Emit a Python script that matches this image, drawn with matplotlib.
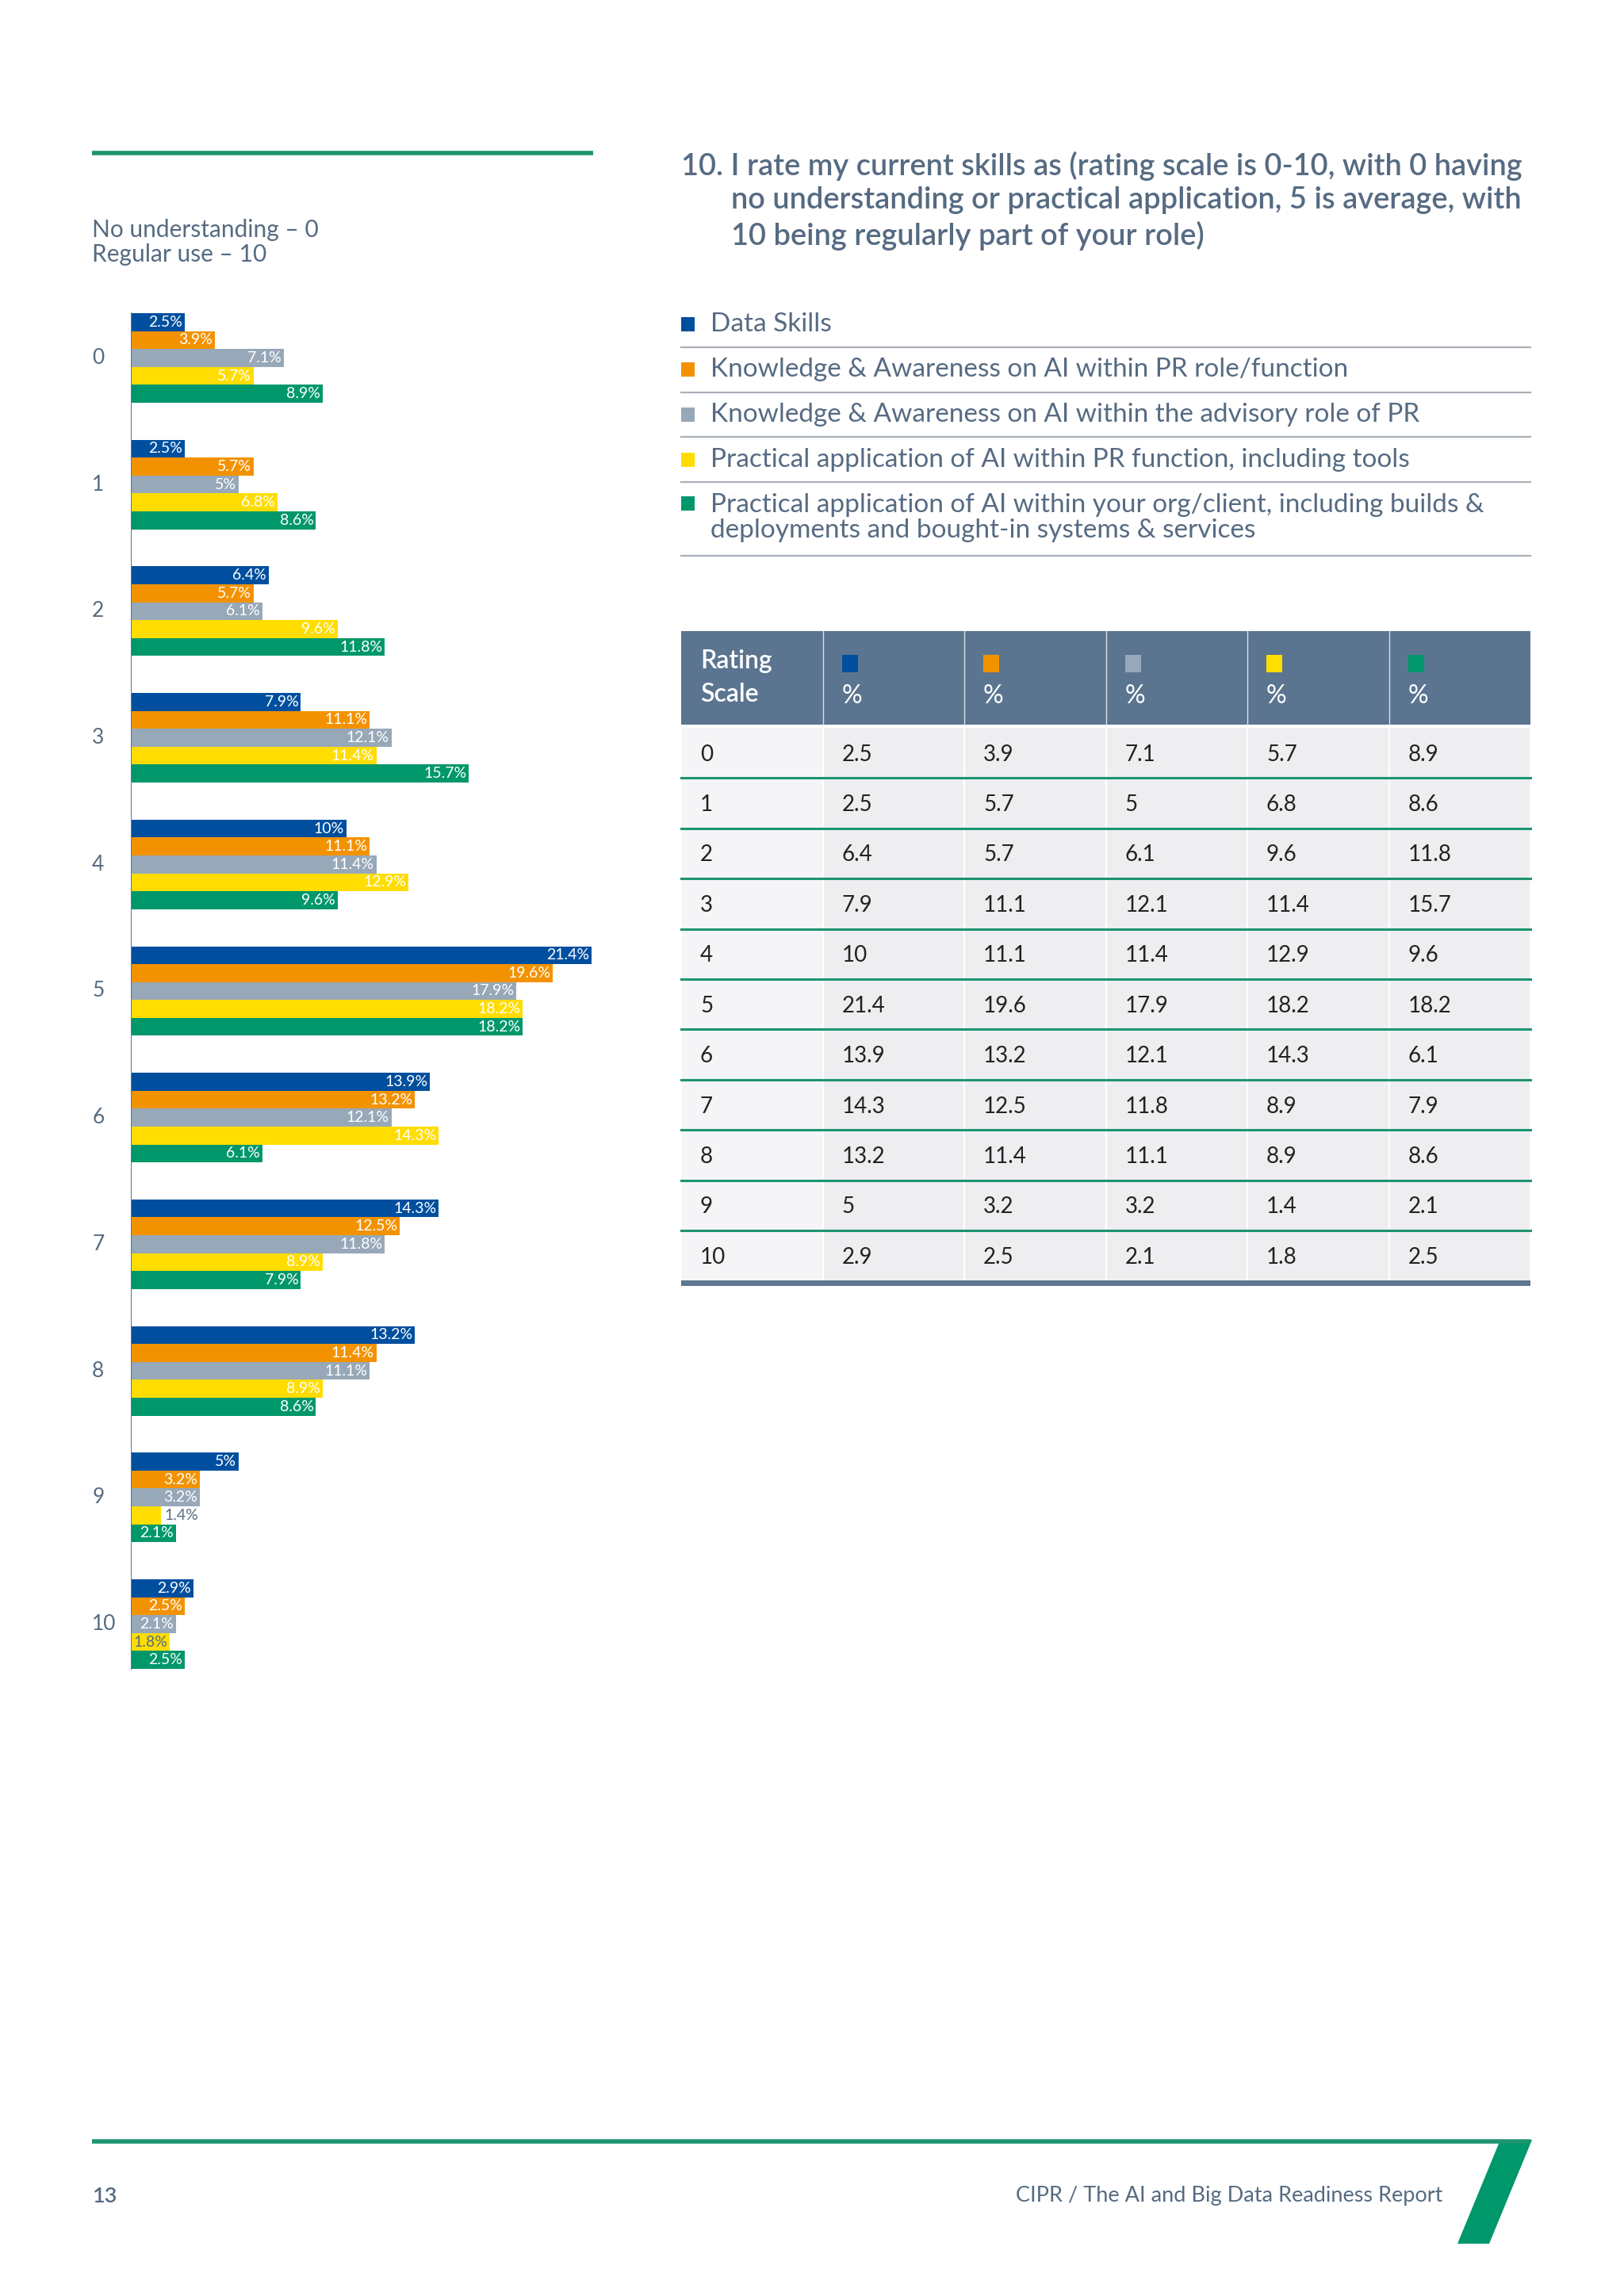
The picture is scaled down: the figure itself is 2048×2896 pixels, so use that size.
import matplotlib.pyplot as plt
import matplotlib.patches as mpatches

plt.rcParams['font.family'] = ['Lato', 'DejaVu Sans']

# rating scale rows
ratings = ['0', '1', '2', '3', '4', '5', '6', '7', '8', '9', '10']

series_names = [
    'Data Skills',
    'Knowledge & Awareness on AI within PR role/function',
    'Knowledge & Awareness on AI within the advisory role of PR',
    'Practical application of AI within PR function, including tools',
    'Practical application of AI within your org/client, including builds &\ndeployments and bought-in systems & services',
]

data_skills = [2.5, 2.5, 6.4, 7.9, 10, 21.4, 13.9, 14.3, 13.2, 5, 2.9]
ai_pr_role = [3.9, 5.7, 5.7, 11.1, 11.1, 19.6, 13.2, 12.5, 11.4, 3.2, 2.5]
ai_advisory = [7.1, 5, 6.1, 12.1, 11.4, 17.9, 12.1, 11.8, 11.1, 3.2, 2.1]
practical_pr = [5.7, 6.8, 9.6, 11.4, 12.9, 18.2, 14.3, 8.9, 8.9, 1.4, 1.8]
practical_org = [8.9, 8.6, 11.8, 15.7, 9.6, 18.2, 6.1, 7.9, 8.6, 2.1, 2.5]

series = [data_skills, ai_pr_role, ai_advisory, practical_pr, practical_org]
colors = ['#004f9f', '#f39200', '#97a8b8', '#ffdd00', '#00976b']

text_col = '#566b82'
header_bg = '#5b7590'
teal = '#1d9470'

W, H = 2048, 2896
fig = plt.figure(figsize=(W / 100, H / 100), dpi=100)
fig.patch.set_facecolor('white')

# page overlay in pixel coordinates
page = fig.add_axes([0, 0, 1, 1])
page.set_xlim(0, W)
page.set_ylim(H, 0)
page.axis('off')

# top-left rule and scale note
page.plot([116, 748], [193, 193], color=teal, lw=4, solid_capstyle='butt')
page.text(116, 290, 'No understanding – 0', fontsize=21.5, color=text_col, va='center')
page.text(116, 321, 'Regular use – 10', fontsize=21.5, color=text_col, va='center')

# title
title_lines = ['10. I rate my current skills as (rating scale is 0-10, with 0 having',
               'no understanding or practical application, 5 is average, with',
               '10 being regularly part of your role)']
for k, line in enumerate(title_lines):
    page.text(859 if k == 0 else 922, 209 + 44 * k, line,
              fontsize=27.4, color=text_col, va='center', fontweight='semibold')

# legend list
leg_y = [409, 466, 523, 580, 635]
sep_y = [438, 495, 551, 608, 701]
for i, name in enumerate(series_names):
    page.add_patch(mpatches.Rectangle((859, leg_y[i] - 9), 17, 18, color=colors[i], lw=0))
    if i < 4:
        page.text(896, leg_y[i], name, fontsize=24, color=text_col, va='center')
    else:
        page.text(896, 653, name, fontsize=24, color=text_col, va='center', linespacing=1.08)
    page.plot([859, 1930], [sep_y[i], sep_y[i]], color='#a9b0b8', lw=1.6)

# table
tx0, tx1 = 859, 1930
col_w = (tx1 - tx0) / 6
head_top, head_bot = 796, 914
row_h = 63.4
page.add_patch(mpatches.Rectangle((tx0, head_top), tx1 - tx0, head_bot - head_top, color=header_bg, lw=0))
page.text(tx0 + 24, 834, 'Rating', fontsize=23, color='white', va='center', fontweight='semibold')
page.text(tx0 + 24, 876, 'Scale', fontsize=23, color='white', va='center', fontweight='semibold')
for j in range(5):
    cx = tx0 + col_w * (j + 1)
    page.plot([cx, cx], [head_top, head_bot], color='#d9dfe6', lw=1)
    page.add_patch(mpatches.Rectangle((cx + 24, 826), 20, 22, color=colors[j], lw=0))
    page.text(cx + 24, 878, '%', fontsize=23, color='white', va='center')

for r, lab in enumerate(ratings):
    top = head_bot + 4 + r * row_h
    for c in range(6):
        bg = '#f5f5f7' if c == 0 else '#eeeef1'
        page.add_patch(mpatches.Rectangle((tx0 + c * col_w + 1, top), col_w - 2, row_h, color=bg, lw=0))
    vals = [lab] + ['%g' % s[r] for s in series]
    for c, v in enumerate(vals):
        page.text(tx0 + c * col_w + 24, top + row_h / 2 + 2, v, fontsize=20, color='#222222', va='center')
    if r < len(ratings) - 1:
        page.plot([tx0, tx1], [top + row_h, top + row_h], color=teal, lw=2.2)
bot = head_bot + 4 + len(ratings) * row_h
page.add_patch(mpatches.Rectangle((tx0, bot), tx1 - tx0, 7, color='#5f7792', lw=0))

# footer
page.plot([116, 1930], [2701, 2701], color=teal, lw=4, solid_capstyle='butt')
page.add_patch(mpatches.Polygon([(1892, 2699), (1932, 2699), (1878, 2830), (1838, 2830)],
                                closed=True, color='#00976b', lw=0))
page.text(116, 2770, '13', fontsize=19.5, color=text_col, va='center', fontweight='semibold')
page.text(1819, 2770, 'CIPR / The AI and Big Data Readiness Report', fontsize=19.5,
          color=text_col, va='center', ha='right')

# bar chart
h = 0.1415
y_top, y_bot = -0.6, 10.6
px_per_unit = 159.7
ax_top = 395 - (-(y_top) - 2.5 * h) * px_per_unit
ax_height = (y_bot - y_top) * px_per_unit
x_max = 25
px_per_pct = 27.15
ax = fig.add_axes([165 / W, 1 - (ax_top + ax_height) / H, x_max * px_per_pct / W, ax_height / H])
ax.set_xlim(0, x_max)
ax.set_ylim(y_bot, y_top)
ax.axis('off')

for j, vals in enumerate(series):
    ys = [i + (j - 2) * h for i in range(len(ratings))]
    ax.barh(ys, vals, height=h, color=colors[j], lw=0)
    for y, v in zip(ys, vals):
        lab = '%g%%' % v
        if v < 1.5:
            ax.text(v + 0.15, y, lab, fontsize=14, color=text_col, va='center', ha='left')
        elif v < 2:
            ax.text(v - 0.1, y, lab, fontsize=14, color=text_col, va='center', ha='right')
        else:
            ax.text(v - 0.1, y, lab, fontsize=14, color='white', va='center', ha='right')

ax.plot([0, 0], [-2.5 * h, len(ratings) - 1 + 2.5 * h], color='#5f7792', lw=1.5)
for i, lab in enumerate(ratings):
    ax.text(-1.8, i, lab, fontsize=19, color=text_col, va='center', ha='left')

fig.savefig('out.png', dpi=100)
